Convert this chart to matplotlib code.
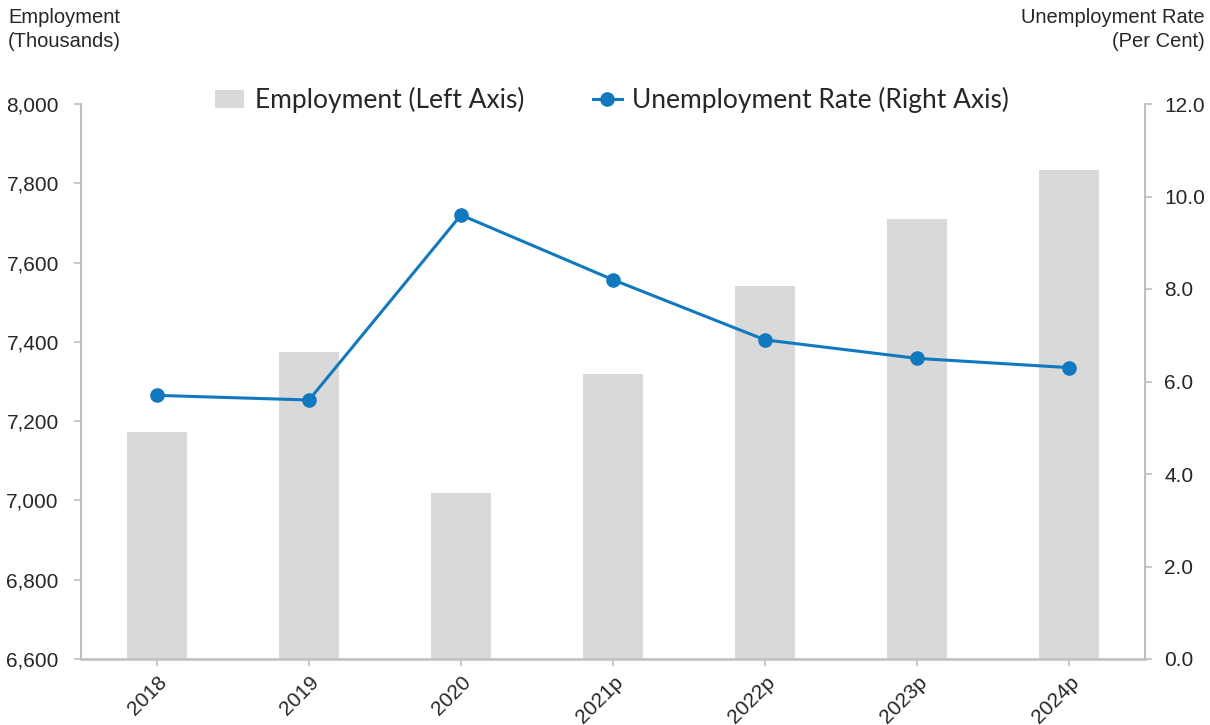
import matplotlib
matplotlib.use("Agg")
import matplotlib.pyplot as plt
from matplotlib import font_manager
import numpy as np

years = ["2018", "2019", "2020", "2021p", "2022p", "2023p", "2024p"]
employment = [7172, 7375, 7020, 7318, 7541, 7711, 7833]
unemployment = [5.7, 5.6, 9.6, 8.2, 6.9, 6.5, 6.3]
left_ticks = [6600, 6800, 7000, 7200, 7400, 7600, 7800, 8000]
right_ticks = [0.0, 2.0, 4.0, 6.0, 8.0, 10.0, 12.0]

names = {f.name for f in font_manager.fontManager.ttflist}
tick_font = "Liberation Sans Narrow" if "Liberation Sans Narrow" in names else "Liberation Sans"
legend_font = "Lato"

axis_col = "#bfbfbf"
bar_col = "#d9d9d9"
line_col = "#1079bf"
text_col = "#262626"

fig = plt.figure(figsize=(12.1, 7.25), dpi=100)
ax = fig.add_axes([81/1210, 66/725, (1145-81)/1210, (659-104)/725])
ax2 = ax.twinx()

x = np.arange(len(years))
bars = ax.bar(x, employment, width=0.4, color=bar_col, zorder=1,
              label="Employment (Left Axis)")
ax.set_ylim(6600, 8000)
ax.set_xlim(-0.5, len(years) - 0.5)
ax.set_yticks(left_ticks)
ax.set_yticklabels([f"{v:,}" for v in left_ticks])
ax.set_xticks(x)
ax.set_xticklabels(years, rotation=45, ha="right", rotation_mode="anchor")

line, = ax2.plot(x, unemployment, color=line_col, lw=2.2, marker="o", ms=9.5,
                 label="Unemployment Rate (Right Axis)", zorder=3)
ax2.set_ylim(0, 12)
ax2.set_yticks(right_ticks)
ax2.set_yticklabels([f"{v:.1f}" for v in right_ticks])

for a in (ax, ax2):
    for s in a.spines.values():
        s.set_visible(False)
    a.tick_params(colors=axis_col, labelcolor=text_col, length=5, width=1.2)
    for lab in a.get_yticklabels() + a.get_xticklabels():
        lab.set_fontfamily(tick_font)
        lab.set_fontsize(15)

ax.spines["left"].set_visible(True)
ax.spines["bottom"].set_visible(True)
ax.spines["left"].set_color(axis_col)
ax.spines["bottom"].set_color(axis_col)
ax.spines["left"].set_linewidth(1.5)
ax.spines["bottom"].set_linewidth(1.8)
ax2.spines["right"].set_visible(True)
ax2.spines["right"].set_color(axis_col)
ax2.spines["right"].set_linewidth(1.5)
ax.tick_params(axis="x", pad=5)
ax.tick_params(axis="y", pad=11)
ax2.tick_params(axis="y", pad=9)

fig.text(8/1210, 1 - 8/725, "Employment\n(Thousands)", ha="left", va="top",
         fontsize=14.5, family=tick_font, color=text_col, linespacing=1.35)
fig.text(1205/1210, 1 - 8/725, "Unemployment Rate\n(Per Cent)", ha="right", va="top",
         fontsize=14.5, family=tick_font, color=text_col, linespacing=1.35, multialignment="right")

fig.legend([bars, line], ["Employment (Left Axis)", "Unemployment Rate (Right Axis)"],
           loc="center", bbox_to_anchor=(612/1210, 1 - 100/725), ncol=2, frameon=False,
           prop={"family": legend_font, "size": 19}, columnspacing=2.6,
           handlelength=1.1, handletextpad=0.4, labelcolor=text_col)

fig.savefig("out.png", dpi=100)
